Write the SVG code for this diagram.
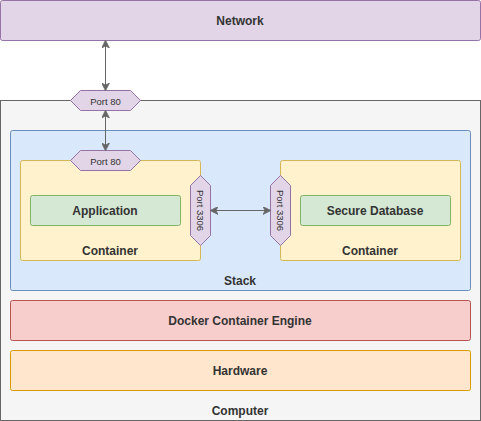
<svg xmlns="http://www.w3.org/2000/svg" width="481" height="421" viewBox="0 0 481 421">
<style>
text{font-family:"Liberation Sans",Arial,sans-serif;fill:#333333;text-anchor:middle;dominant-baseline:central}
.b{font-size:12px;font-weight:bold}
.p{font-size:9.5px}
.port{fill:#e1d5e7;stroke:#9673a6;stroke-width:1}
.edge{stroke:#666666;stroke-width:1;fill:none}
</style>
<defs>
<marker id="ah" viewBox="0 0 10 10" refX="9" refY="5" markerWidth="8" markerHeight="8" orient="auto-start-reverse" markerUnits="userSpaceOnUse">
<path d="M0,0 L10,5 L0,10 L3,5 Z" fill="#666666" stroke="#666666" stroke-width="1"/>
</marker>
</defs>
<g id="network"><rect x="0.5" y="0.5" width="480" height="40" rx="2" fill="#e1d5e7" stroke="#9673a6"/><text class="b" x="240" y="21">Network</text></g>
<g id="computer"><rect x="0.5" y="100.5" width="480" height="320" fill="#f5f5f5" stroke="#666666"/><text class="b" x="240" y="411">Computer</text></g>
<g id="stack"><rect x="10.5" y="130.5" width="460" height="160" rx="2" fill="#dae8fc" stroke="#6c8ebf"/><text class="b" x="240" y="281">Stack</text></g>
<g id="container-left"><rect x="20.5" y="160.5" width="180" height="100" rx="2" fill="#fff2cc" stroke="#d6b656"/><text class="b" x="110" y="251">Container</text></g>
<g id="application"><rect x="30.5" y="195.5" width="150" height="30" rx="2" fill="#d5e8d4" stroke="#82b366"/><text class="b" x="105" y="211">Application</text></g>
<g id="container-right"><rect x="280.5" y="160.5" width="180" height="100" rx="2" fill="#fff2cc" stroke="#d6b656"/><text class="b" x="370" y="251">Container</text></g>
<g id="database"><rect x="300.5" y="195.5" width="150" height="30" rx="2" fill="#d5e8d4" stroke="#82b366"/><text class="b" x="375" y="211">Secure Database</text></g>
<g id="docker"><rect x="10.5" y="300.5" width="460" height="40" rx="2" fill="#f8cecc" stroke="#b85450"/><text class="b" x="240" y="321">Docker Container Engine</text></g>
<g id="hardware"><rect x="10.5" y="350.5" width="460" height="40" rx="2" fill="#ffe6cc" stroke="#d79b00"/><text class="b" x="240" y="371">Hardware</text></g>
<g id="port80-outer"><polygon class="port" points="70.5,100.5 80.5,90.5 130.5,90.5 140.5,100.5 130.5,110.5 80.5,110.5"/><text class="p" x="105.5" y="101">Port 80</text></g>
<g id="port80-inner"><polygon class="port" points="70.5,160.5 80.5,150.5 130.5,150.5 140.5,160.5 130.5,170.5 80.5,170.5"/><text class="p" x="105.5" y="161">Port 80</text></g>
<g id="port3306-left"><polygon class="port" points="200.5,175.5 210.5,185.5 210.5,235.5 200.5,245.5 190.5,235.5 190.5,185.5"/><text class="p" transform="translate(200,210.5) rotate(90)">Port 3306</text></g>
<g id="port3306-right"><polygon class="port" points="280.5,175.5 290.5,185.5 290.5,235.5 280.5,245.5 270.5,235.5 270.5,185.5"/><text class="p" transform="translate(280,210.5) rotate(90)">Port 3306</text></g>
<g id="connectors">
<line class="edge" x1="105.5" y1="41" x2="105.5" y2="90" marker-start="url(#ah)" marker-end="url(#ah)"/>
<line class="edge" x1="105.5" y1="111" x2="105.5" y2="150" marker-start="url(#ah)" marker-end="url(#ah)"/>
<line class="edge" x1="211" y1="210.5" x2="270" y2="210.5" marker-start="url(#ah)" marker-end="url(#ah)"/>
</g>
</svg>
